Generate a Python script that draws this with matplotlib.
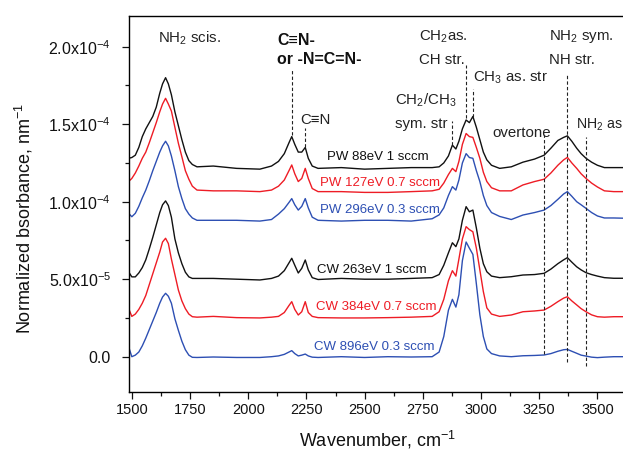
import numpy as np
import matplotlib
matplotlib.use("Agg")
import matplotlib.pyplot as plt
from matplotlib.ticker import MultipleLocator, FixedLocator, FixedFormatter

plt.rcParams['font.family'] = ['Liberation Sans', 'DejaVu Sans']
plt.rcParams['mathtext.default'] = 'regular'

# wavenumber grid (cm-1), values in units of 1e-5 nm-1
wn = [1486, 1500, 1515, 1530, 1545, 1560, 1575, 1590, 1605, 1620, 1632, 1645, 1657, 1670,
      1685, 1700, 1715, 1730, 1745, 1760, 1780, 1850, 1950, 2050, 2100, 2130, 2155, 2175,
      2187, 2200, 2215, 2230, 2245, 2258, 2275, 2300, 2400, 2500, 2600, 2700, 2790, 2820,
      2840, 2860, 2877, 2892, 2905, 2920, 2936, 2950, 2965, 2980, 2995, 3010, 3025, 3045,
      3080, 3130, 3180, 3230, 3271, 3300, 3330, 3355, 3371, 3390, 3411, 3430, 3451, 3475,
      3500, 3530, 3570, 3625]

pw_88 = [12.8, 12.85, 13.0, 13.5, 14.2, 14.7, 15.1, 15.5, 16.1, 17.0, 17.6, 18.0, 17.6, 16.9,
         15.8, 14.9, 14.0, 13.2, 12.65, 12.4, 12.25, 12.3, 12.15, 12.1, 12.3, 12.6, 13.1, 13.8,
         14.2, 13.7, 13.2, 13.2, 13.5, 12.8, 12.3, 12.15, 12.2, 12.1, 12.15, 12.2, 12.2, 12.25,
         12.5, 12.95, 13.65, 13.4, 13.9, 14.7, 15.27, 15.1, 15.5, 14.8, 14.0, 13.2, 12.7, 12.35,
         12.15, 12.25, 12.55, 12.75, 13.0, 13.45, 13.95, 14.15, 14.25, 13.9, 13.45, 13.1, 12.8, 12.55,
         12.35, 12.2, 12.2, 12.2]

pw_127 = [11.3, 11.5, 11.85, 12.3, 12.8, 13.2, 13.8, 14.45, 15.1, 15.8, 16.3, 16.67, 16.3, 15.85,
          14.8, 13.77, 12.9, 12.0, 11.45, 11.0, 10.75, 10.7, 10.7, 10.65, 10.75, 11.0, 11.4, 12.0,
          12.37, 11.8, 11.3, 11.5, 12.15, 11.5, 10.85, 10.65, 10.65, 10.6, 10.6, 10.65, 10.7, 10.8,
          11.2, 11.75, 12.15, 11.94, 12.6, 13.7, 14.4, 14.2, 14.15, 13.5, 12.8, 11.9, 11.3, 10.9,
          10.7, 10.7, 11.08, 11.3, 11.45, 11.85, 12.35, 12.7, 12.86, 12.5, 12.15, 11.8, 11.5, 11.2,
          10.95, 10.7, 10.65, 10.65]

pw_296 = [9.25, 9.03, 9.25, 9.7, 10.25, 10.75, 11.35, 12.0, 12.6, 13.2, 13.6, 13.9, 13.6, 12.95,
          12.0, 10.97, 10.2, 9.55, 9.2, 8.95, 8.8, 8.8, 8.8, 8.75, 8.85, 9.2, 9.55, 9.95,
          10.2, 9.8, 9.46, 9.7, 10.2, 9.6, 9.0, 8.8, 8.75, 8.8, 8.8, 8.75, 8.9, 9.15,
          9.6, 10.4, 10.97, 10.75, 11.4, 12.5, 13.1, 12.85, 12.8, 12.0, 11.3, 10.4, 9.75, 9.3,
          9.05, 8.85, 9.14, 9.3, 9.46, 9.75, 10.15, 10.5, 10.65, 10.35, 10.0, 9.8, 9.57, 9.3,
          9.08, 8.95, 8.95, 8.93]

cw_263 = [5.48, 5.15, 5.15, 5.4, 5.75, 6.25, 6.95, 7.7, 8.5, 9.3, 9.8, 10.05, 9.75, 9.0,
          7.6, 6.7, 6.0, 5.45, 5.15, 5.05, 5.05, 5.05, 5.0, 4.95, 5.05, 5.2, 5.55, 6.05,
          6.35, 5.9, 5.4, 5.7, 6.24, 5.6, 5.1, 4.98, 5.05, 5.0, 5.0, 5.05, 5.1, 5.3,
          5.9, 6.7, 7.35, 7.1, 7.6, 8.8, 9.68, 9.35, 9.46, 8.3, 7.0, 6.0, 5.48, 5.2,
          5.1, 5.16, 5.27, 5.3, 5.38, 5.65, 6.0, 6.25, 6.39, 6.1, 5.8, 5.6, 5.42, 5.3,
          5.2, 5.1, 5.06, 5.06]

cw_384 = [3.12, 2.6, 2.75, 3.05, 3.45, 3.95, 4.65, 5.35, 6.05, 6.75, 7.4, 7.64, 7.3, 6.3,
          5.3, 4.3, 3.6, 3.1, 2.75, 2.58, 2.55, 2.6, 2.52, 2.5, 2.55, 2.6, 2.85, 3.3,
          3.55, 3.05, 2.69, 2.9, 3.55, 2.85, 2.6, 2.52, 2.5, 2.5, 2.52, 2.55, 2.6, 2.9,
          3.7, 4.9, 5.55, 5.2, 6.3, 7.6, 8.39, 8.2, 8.06, 7.0, 5.6, 4.2, 3.15, 2.75,
          2.6, 2.69, 2.9, 2.95, 3.01, 3.25, 3.55, 3.78, 3.87, 3.6, 3.34, 3.1, 2.9, 2.7,
          2.58, 2.55, 2.58, 2.58]

cw_896 = [0.65, 0.0, 0.1, 0.3, 0.7, 1.2, 1.75, 2.3, 2.85, 3.45, 3.85, 4.09, 3.9, 3.45,
          2.45, 1.7, 1.0, 0.45, 0.1, -0.04, -0.05, -0.02, -0.05, -0.05, 0.0, 0.05, 0.15, 0.3,
          0.39, 0.2, 0.05, 0.1, 0.17, 0.05, -0.03, -0.05, 0.0, -0.05, 0.0, -0.02, 0.0, 0.3,
          1.3, 3.0, 3.7, 3.2, 4.0, 6.2, 7.4, 7.0, 6.6, 4.7, 2.7, 1.3, 0.5, 0.2,
          0.05, 0.0, 0.06, 0.08, 0.11, 0.2, 0.35, 0.45, 0.47, 0.35, 0.22, 0.1, 0.04, -0.03,
          -0.06, -0.03, 0.0, 0.0]

labels = ["PW 88eV 1 sccm", "PW 127eV 0.7 sccm", "PW 296eV 0.3 sccm",
          "CW 263eV 1 sccm", "CW 384eV 0.7 sccm", "CW 896eV 0.3 sccm"]
label_x = [2339, 2309, 2309, 2296, 2292, 2283]
label_y = [12.88, 11.21, 9.46, 5.59, 3.21, 0.63]

BLACK = '#111111'
RED = '#ee1c25'
BLUE = '#2d4fb3'
colors = [BLACK, RED, BLUE, BLACK, RED, BLUE]
series = [pw_88, pw_127, pw_296, cw_263, cw_384, cw_896]

# band annotations
bands = ["NH$_2$ scis.", "C\u2261N", "CH$_2$as.", "CH str.", "CH$_3$ as. str",
         "CH$_2$/CH$_3$", "sym. str", "overtone", "NH$_2$ sym.", "NH str.", "NH$_2$ as"]
band_x = [1613, 2223, 2734, 2734, 2966, 2631, 2631, 3048, 3293, 3293, 3406]
band_y = [20.56, 15.27, 20.63, 19.15, 17.98, 16.56, 15.0, 14.43, 20.63, 19.15, 14.95]
band_fs = [10.8] * 10 + [10.2]

# dashed marker lines: position, top, bottom
mark_x = [2187, 2244, 2877, 2936, 2965, 3271, 3371, 3451]
mark_top = [18.5, 14.75, 15.2, 18.8, 17.3, 14.3, 18.2, 14.2]
mark_bot = [14.3, 13.5, 13.66, 15.4, 15.45, 0.17, -0.34, -0.6]

scale = 1e-5

fig = plt.figure(figsize=(6.23, 4.51), dpi=100)
ax = fig.add_axes([0.2071, 0.1315, 0.7978, 0.833])

for y, c in zip(series, colors):
    ax.plot(wn, np.array(y) * scale, color=c, lw=1.0)

for lab, x, y, c in zip(labels, label_x, label_y, colors):
    ax.text(x, y * scale, lab, color=c, fontsize=9.5, ha='left', va='center')

for lab, x, y, fs in zip(bands, band_x, band_y, band_fs):
    ax.text(x, y * scale, lab, color='#222222', fontsize=fs, ha='left', va='center')

ax.text(2124, 20.43 * scale, "C\u2261N-", fontsize=11.5, fontweight='bold', color='#111111',
        ha='left', va='center')
ax.text(2124, 19.15 * scale, "or -N=C=N-", fontsize=11.5, fontweight='bold', color='#111111',
        ha='left', va='center')

ax.vlines(mark_x, np.array(mark_bot) * scale, np.array(mark_top) * scale,
          colors='#222222', linestyles=(0, (3, 2)), lw=0.8)

ax.set_xlim(1488, 3623)
ax.set_ylim(-2.258e-5, 2.198e-4)

ax.xaxis.set_major_locator(MultipleLocator(250))
ax.xaxis.set_minor_locator(MultipleLocator(125))
yt = [0, 5e-5, 1e-4, 1.5e-4, 2e-4]
ax.yaxis.set_major_locator(FixedLocator(yt))
ax.yaxis.set_major_formatter(FixedFormatter(["0.0", "5.0x10$^{-5}$", "1.0x10$^{-4}$",
                                             "1.5x10$^{-4}$", "2.0x10$^{-4}$"]))
ax.yaxis.set_minor_locator(MultipleLocator(2.5e-5))
ax.tick_params(which='both', direction='out', colors='#111111')
ax.tick_params(axis='x', labelsize=10.5)
ax.tick_params(axis='y', labelsize=11.5, pad=8)
ax.tick_params(which='major', length=5, width=0.9)
ax.tick_params(which='minor', length=3, width=0.9)
ax.spines['right'].set_visible(False)
for s in ['left', 'bottom', 'top']:
    ax.spines[s].set_linewidth(1.0)

ax.set_xlabel("Wavenumber, cm$^{-1}$", fontsize=13, color='#111111', labelpad=8)
ax.set_ylabel("Normalized bsorbance, nm$^{-1}$", fontsize=13, color='#111111')
ax.yaxis.set_label_coords(-0.189, 0.462)

fig.savefig("out.png", dpi=100)
